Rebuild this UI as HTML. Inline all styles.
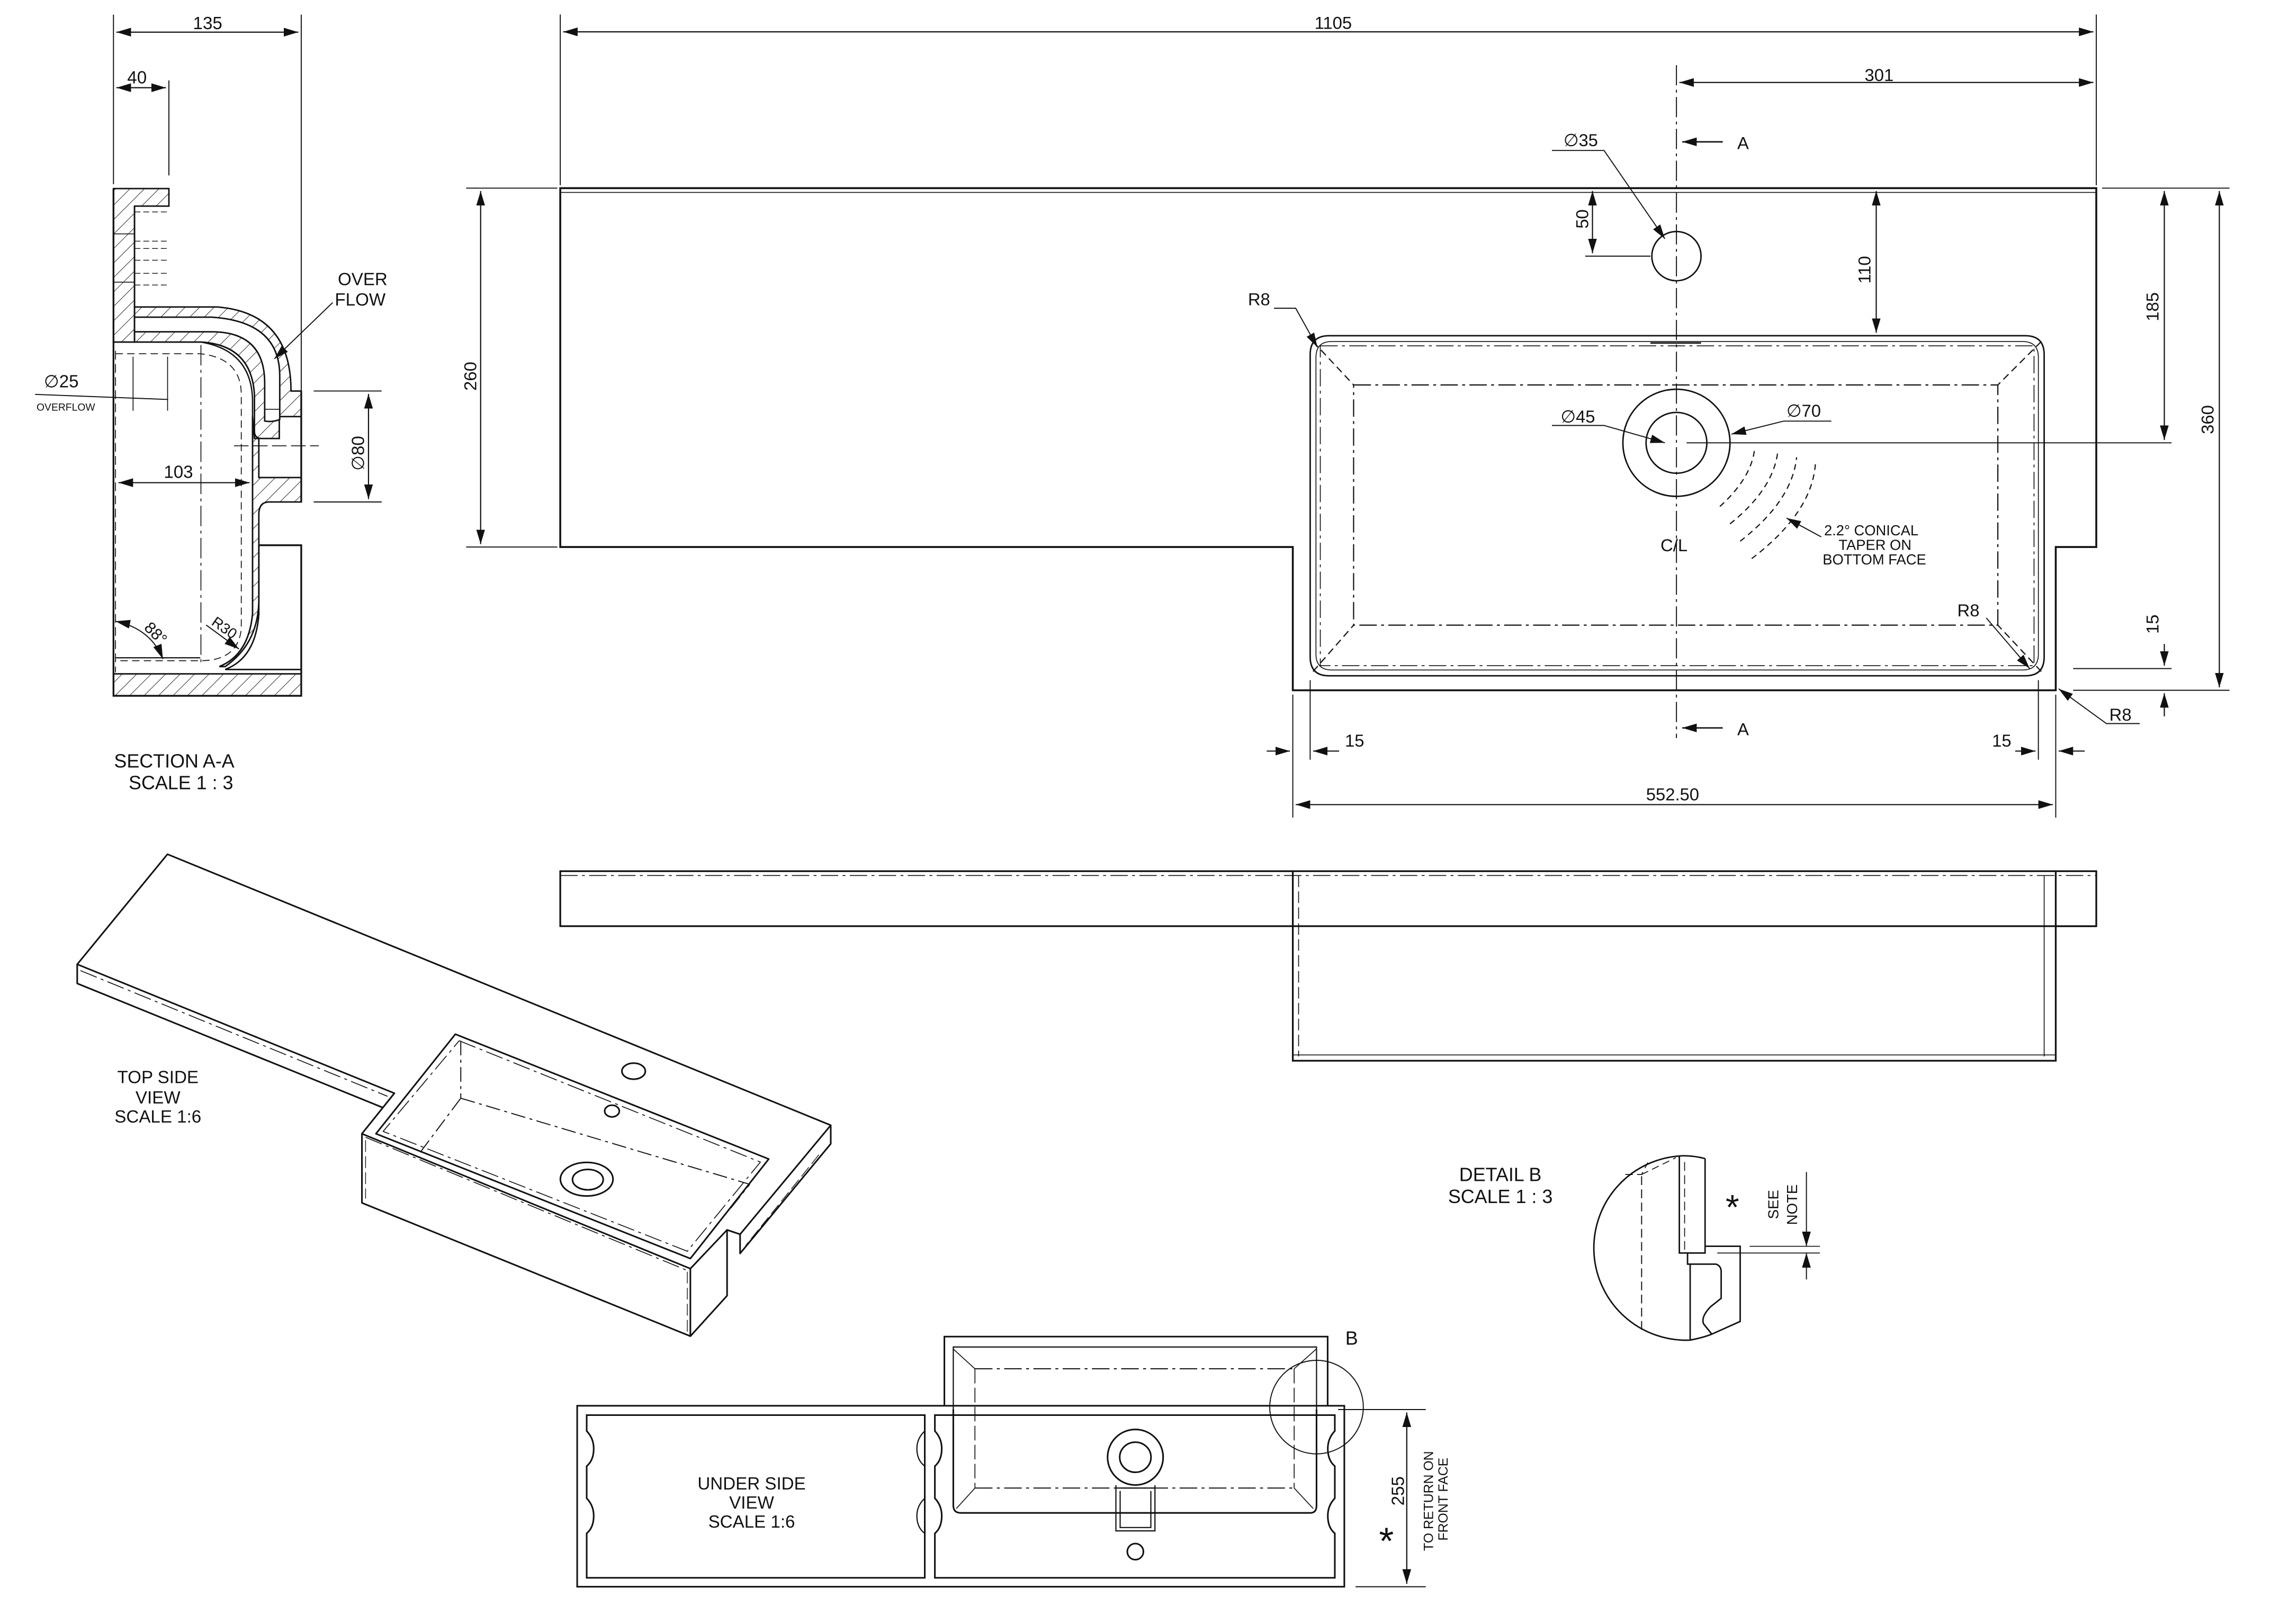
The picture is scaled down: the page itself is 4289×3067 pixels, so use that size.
<!DOCTYPE html>
<html><head><meta charset="utf-8"><style>
html,body{margin:0;padding:0;background:#fff;}
svg{display:block;}
text{font-family:"Liberation Sans",sans-serif;fill:#111;}
</style></head><body>
<svg width="4289" height="3067" viewBox="0 0 1553 1111" preserveAspectRatio="none" xmlns="http://www.w3.org/2000/svg">
<defs>
<marker id="ar" markerWidth="10" markerHeight="6" refX="10" refY="3" orient="auto-start-reverse" markerUnits="userSpaceOnUse"><path d="M0,0L10,3L0,6z" fill="#111"/></marker>
<pattern id="h" width="7" height="7" patternUnits="userSpaceOnUse" patternTransform="rotate(45)"><line x1="0" y1="0" x2="0" y2="7" stroke="#222" stroke-width="0.7"/></pattern>
</defs>

<g transform="scale(0.99)">
<g fill="none" stroke="#111" stroke-width="1">
<!-- ===== TOP PLAN VIEW ===== -->
<path d="M387,130H1448V378H1420V477H893V378H387Z" stroke-width="1.3"/>
<line x1="387" y1="133" x2="1448" y2="133" stroke-width="0.6"/>
<path d="M905,245Q905,232 918,232H1399Q1412,232 1412,245V454Q1412,467 1399,467H918Q905,467 905,454Z"/>
<path d="M909,247Q909,236 920,236H1397Q1408,236 1408,247V452Q1408,463 1397,463H920Q909,463 909,452Z" stroke-width="0.6"/>
<rect x="935" y="266" width="445" height="166" stroke-dasharray="12,3,2,3" stroke-width="0.8"/>
<rect x="912" y="239" width="493" height="221" stroke-dasharray="12,3,2,3" stroke-width="0.6"/>
<path d="M907,236L935,266M1410,236L1380,266M907,464L935,432M1410,464L1380,432" stroke-dasharray="5,3" stroke-width="0.8"/>
<circle cx="1158" cy="177" r="17"/>
<circle cx="1158" cy="306" r="37"/>
<circle cx="1158" cy="306" r="21"/>
<line x1="1158" y1="45" x2="1158" y2="510" stroke-dasharray="14,3,2,3" stroke-width="0.7"/>
<line x1="1165" y1="306" x2="1500" y2="306" stroke-width="0.7"/>
<path d="M1188,350Q1210,330 1212,310M1195,362Q1225,338 1228,312M1202,374Q1238,346 1241,316M1210,386Q1252,354 1254,320" stroke-dasharray="4,3" stroke-width="0.8"/>
<line x1="387" y1="10" x2="387" y2="128" stroke-width="0.7"/>
<line x1="1448" y1="10" x2="1448" y2="128" stroke-width="0.7"/>
<line x1="389" y1="22" x2="1446" y2="22" marker-start="url(#ar)" marker-end="url(#ar)" stroke-width="0.8"/>
<line x1="1160" y1="57" x2="1446" y2="57" marker-start="url(#ar)" marker-end="url(#ar)" stroke-width="0.8"/>
<line x1="1190" y1="98" x2="1162" y2="98" marker-end="url(#ar)" stroke-width="1"/>
<line x1="1190" y1="503" x2="1162" y2="503" marker-end="url(#ar)" stroke-width="1"/>
<line x1="322" y1="130" x2="385" y2="130" stroke-width="0.7"/>
<line x1="322" y1="378" x2="385" y2="378" stroke-width="0.7"/>
<line x1="332" y1="132" x2="332" y2="376" marker-start="url(#ar)" marker-end="url(#ar)" stroke-width="0.8"/>
<line x1="1452" y1="130" x2="1540" y2="130" stroke-width="0.7"/>
<line x1="1495" y1="132" x2="1495" y2="304" marker-start="url(#ar)" marker-end="url(#ar)" stroke-width="0.8"/>
<line x1="1533" y1="132" x2="1533" y2="475" marker-start="url(#ar)" marker-end="url(#ar)" stroke-width="0.8"/>
<line x1="1432" y1="477" x2="1540" y2="477" stroke-width="0.7"/>
<line x1="1432" y1="462" x2="1500" y2="462" stroke-width="0.7"/>
<line x1="1495" y1="445" x2="1495" y2="460" marker-end="url(#ar)" stroke-width="0.8"/>
<line x1="1495" y1="495" x2="1495" y2="479" marker-end="url(#ar)" stroke-width="0.8"/>
<line x1="1296" y1="132" x2="1296" y2="230" marker-start="url(#ar)" marker-end="url(#ar)" stroke-width="0.8"/>
<line x1="1100" y1="132" x2="1100" y2="175" marker-start="url(#ar)" marker-end="url(#ar)" stroke-width="0.8"/>
<line x1="1095" y1="177" x2="1140" y2="177" stroke-width="0.7"/>
<line x1="1140" y1="237" x2="1175" y2="237" stroke-width="1"/>
<line x1="893" y1="480" x2="893" y2="565" stroke-width="0.7"/>
<line x1="905" y1="470" x2="905" y2="525" stroke-width="0.7"/>
<line x1="1420" y1="480" x2="1420" y2="565" stroke-width="0.7"/>
<line x1="1408" y1="470" x2="1408" y2="525" stroke-width="0.7"/>
<line x1="875" y1="519" x2="891" y2="519" marker-end="url(#ar)" stroke-width="0.8"/>
<line x1="925" y1="519" x2="907" y2="519" marker-end="url(#ar)" stroke-width="0.8"/>
<line x1="1392" y1="519" x2="1406" y2="519" marker-end="url(#ar)" stroke-width="0.8"/>
<line x1="1440" y1="519" x2="1422" y2="519" marker-end="url(#ar)" stroke-width="0.8"/>
<line x1="895" y1="556" x2="1418" y2="556" marker-start="url(#ar)" marker-end="url(#ar)" stroke-width="0.8"/>
<path d="M1072,104H1108L1150,165" marker-end="url(#ar)" stroke-width="0.7"/>
<path d="M1072,294H1108L1150,306" marker-end="url(#ar)" stroke-width="0.7"/>
<path d="M1265,291H1232L1196,300" marker-end="url(#ar)" stroke-width="0.7"/>
<path d="M880,213H895L910,240" marker-end="url(#ar)" stroke-width="0.7"/>
<path d="M1372,427L1402,462" marker-end="url(#ar)" stroke-width="0.7"/>
<path d="M1478,500H1455L1422,476" marker-end="url(#ar)" stroke-width="0.7"/>
<path d="M1258,371L1234,358" marker-end="url(#ar)" stroke-width="0.7"/>
<!-- ===== FRONT VIEW ===== -->
<g stroke-width="1.2">
<rect x="387" y="602" width="1061" height="38"/>
<line x1="387" y1="605" x2="1448" y2="605" stroke-width="0.6" stroke-dasharray="12,3,2,3"/>
<path d="M893,602V733H1420V602M1420,640H1448"/>
<line x1="897" y1="605" x2="897" y2="730" stroke-width="0.6" stroke-dasharray="8,3"/>
<line x1="1412" y1="605" x2="1412" y2="730" stroke-width="0.6"/>
<line x1="893" y1="729" x2="1420" y2="729" stroke-width="0.6"/>
</g>
</g>
<g font-size="12">
<text x="908" y="20">1105</text>
<text x="1288" y="56">301</text>
<text x="1200" y="103">A</text>
<text x="1200" y="508">A</text>
<text x="1080" y="101">∅35</text>
<text x="862" y="211">R8</text>
<text x="1078" y="292">∅45</text>
<text x="1234" y="288">∅70</text>
<text x="1147" y="381">C/L</text>
<text x="1352" y="426">R8</text>
<text x="1457" y="498">R8</text>
<text x="929" y="516">15</text>
<text x="1376" y="516">15</text>
<text x="1137" y="553">552.50</text>
<text transform="translate(329,270) rotate(-90)">260</text>
<text transform="translate(1097,158) rotate(-90)">50</text>
<text transform="translate(1292,196) rotate(-90)">110</text>
<text transform="translate(1491,222) rotate(-90)">185</text>
<text transform="translate(1529,300) rotate(-90)">360</text>
<text transform="translate(1491,438) rotate(-90)">15</text>
</g>
<g font-size="10"><text x="1260" y="370">2.2° CONICAL</text><text x="1270" y="380">TAPER ON</text><text x="1259" y="390">BOTTOM FACE</text></g>
</g>

<!-- ===== SECTION A-A (true coords) ===== -->
<g fill="none" stroke="#111" stroke-width="1">
<line x1="77.6" y1="10" x2="77.6" y2="126" stroke-width="0.7"/>
<line x1="206" y1="10" x2="206" y2="267" stroke-width="0.7"/>
<line x1="115.5" y1="55" x2="115.5" y2="120" stroke-width="0.7"/>
<line x1="79.6" y1="22" x2="204" y2="22" marker-start="url(#ar)" marker-end="url(#ar)" stroke-width="0.8"/>
<line x1="79.6" y1="60" x2="113.5" y2="60" marker-start="url(#ar)" marker-end="url(#ar)" stroke-width="0.8"/>
<path d="M77.6,129H115.5V141H92V234H77.6Z" fill="url(#h)"/>
<path d="M92,210H148.6Q199,214 199,267.5H206V285H191V300H179Q174,300 174,295V270Q172,236 137.4,234H92Z" fill="url(#h)"/>
<path d="M92,217H144.8Q191.3,220 191.3,257V287Q186,289 181,288V262Q181,227 144.8,227H92Z" fill="#fff"/>
<line x1="181" y1="280" x2="191.3" y2="280" stroke-width="0.6"/>
<path d="M172.7,285V420Q170,448 150,456H154Q177,440 177,410V352Q177,343.4 184,343.4H206V326.7H177V300H174Z" fill="url(#h)"/>
<path d="M77.6,461H206V476H77.6Z" fill="url(#h)"/>
<path d="M77.6,129V476H206V373H177M206,343.4V267.5" stroke-width="1.2"/>
<path d="M177,373V420Q175,450 154,458H206" />
<path d="M92,141V210" />
<path d="M92,145H115.5M92,165H115.5M92,170H115.5M92,178H115.5M92,187H115.5M92,195H115.5" stroke-dasharray="4,2" stroke-width="0.5"/>
<path d="M77.6,160H92M77.6,193H92" stroke-width="0.6"/>
<path d="M79,242H137Q165,245 165,270V430Q163,452 137,452H79" stroke-dasharray="5,3" stroke-width="0.6"/>
<line x1="79" y1="240" x2="79" y2="460" stroke-dasharray="6,3" stroke-width="0.6"/>
<line x1="137.4" y1="236" x2="137.4" y2="455" stroke-dasharray="14,3,2,3" stroke-width="0.6"/>
<path d="M77.6,234H137.4Q172.7,240 172.7,275V420" stroke-width="0.9"/>
<path d="M79,450H137" stroke-width="0.8"/>
<line x1="81" y1="330.2" x2="170.7" y2="330.2" marker-start="url(#ar)" marker-end="url(#ar)" stroke-width="0.8"/>
<line x1="252" y1="269.5" x2="252" y2="341.4" marker-start="url(#ar)" marker-end="url(#ar)" stroke-width="0.8"/>
<line x1="214.5" y1="267.5" x2="261" y2="267.5" stroke-width="0.7"/>
<line x1="214.5" y1="343.4" x2="261" y2="343.4" stroke-width="0.7"/>
<line x1="160" y1="305" x2="218" y2="305" stroke-dasharray="10,3" stroke-width="0.6"/>
<line x1="24" y1="269.8" x2="115" y2="273.3" stroke-width="0.7"/>
<line x1="91" y1="244" x2="91" y2="281" stroke-width="0.6"/>
<line x1="114.6" y1="244" x2="114.6" y2="281" stroke-width="0.6"/>
<path d="M79,425Q103,430 111.4,450.8" marker-start="url(#ar)" marker-end="url(#ar)" stroke-width="0.7"/>
<line x1="141" y1="427.6" x2="163.4" y2="444" marker-end="url(#ar)" stroke-width="0.7"/>
<line x1="227.5" y1="207" x2="187.6" y2="245.5" marker-end="url(#ar)" stroke-width="0.7"/>
</g>
<g font-size="12">
<text x="132" y="20">135</text>
<text x="87" y="57">40</text>
<text x="231" y="195">OVER</text><text x="229" y="209">FLOW</text>
<text x="30" y="265">∅25</text>
<text x="112" y="327">103</text>
<text transform="translate(249,322) rotate(-90)">∅80</text>
<text transform="translate(98,430) rotate(45)" font-size="11">88°</text>
<text transform="translate(144,427) rotate(35)" font-size="10">R30</text>
<text x="78" y="525" font-size="13">SECTION A-A</text>
<text x="88" y="540" font-size="13">SCALE 1 : 3</text>
</g>
<text x="25" y="281" font-size="7">OVERFLOW</text>

<!-- ===== ISOMETRIC (true coords) ===== -->
<g fill="none" stroke="#111" stroke-width="1.1" stroke-linejoin="round">
<path d="M114.5,584.4L568.1,769.8V782.5L506.1,857.5V844.4L497.2,841.4V886.4L472.1,914.1L247.5,822.9V775.6L269.7,747.9L52.8,659.7Z"/>
<path d="M52.8,659.7V672.8L261.5,757.6"/>
<path d="M568.1,769.8L506.1,844.4"/>
<path d="M247.5,775.6L472.1,867.9V914.1M472.1,867.9L497.2,841.4"/>
<path d="M55,664L265,750" stroke-dasharray="12,3,2,3" stroke-width="0.6"/>
<path d="M250,778L472,870" stroke-dasharray="12,3,2,3" stroke-width="0.6"/>
<path d="M311.4,707.5L525.7,792.9L472.1,861L257.1,775.6Z"/>
<path d="M314,712L520,795L470,856L262,774Z" stroke-dasharray="12,3,2,3" stroke-width="0.6"/>
<path d="M315.1,751.3L512.7,810.2M499.8,826.4L512.7,810.2M287.4,788.3L315.1,751.3M315.1,712V751.3" stroke-dasharray="10,3,2,3" stroke-width="0.7"/>
<path d="M250,780V820M470,870V912M560,790L510,852" stroke-dasharray="8,3" stroke-width="0.5"/>
<ellipse cx="433.3" cy="732.8" rx="8" ry="5.5"/>
<ellipse cx="418.5" cy="760.1" rx="5" ry="4"/>
<ellipse cx="401.2" cy="806.7" rx="18" ry="11.5"/>
<ellipse cx="402" cy="807" rx="10.5" ry="7"/>
</g>
<g font-size="12" text-anchor="middle"><text x="108" y="741">TOP SIDE</text><text x="108" y="755">VIEW</text><text x="108" y="768">SCALE 1:6</text></g>

<!-- ===== DETAIL B (true coords) ===== -->
<g fill="none" stroke="#111" stroke-width="1">
<path d="M1166,792.6Q1158,790.5 1150.3,790.7A63,63 0 0,0 1155.8,916.8Q1165,915 1170.6,912.7L1190,904V852.6H1166"/>
<path d="M1148.4,790.7V857.2H1166V792.6"/>
<line x1="1152" y1="795" x2="1152" y2="855" stroke-dasharray="6,3" stroke-width="0.6"/>
<path d="M1154,857.2V864.8H1173.4Q1177,866 1177,870V888.2L1169.7,894Q1163,901 1165,905.7L1170.6,912.7"/>
<line x1="1155.8" y1="864.8" x2="1155.8" y2="916.8"/>
<line x1="1122.6" y1="804.7" x2="1122.6" y2="911.6" stroke-dasharray="6,3" stroke-width="0.7"/>
<path d="M1111.5,803.5H1122.6L1126.8,795.3M1122.6,803.5L1146,792" stroke-dasharray="5,3" stroke-width="0.6"/>
<line x1="1196.5" y1="852.6" x2="1244.5" y2="852.6" stroke-width="0.6"/>
<line x1="1174.3" y1="857.2" x2="1244.5" y2="857.2" stroke-width="0.6"/>
<line x1="1235.3" y1="801.8" x2="1235.3" y2="852.6" marker-end="url(#ar)" stroke-width="0.7"/>
<line x1="1235.3" y1="875.3" x2="1235.3" y2="857.2" marker-end="url(#ar)" stroke-width="0.7"/>
</g>
<g font-size="13" text-anchor="middle"><text x="1026" y="808">DETAIL B</text><text x="1026" y="823">SCALE 1 : 3</text></g>
<text x="1180" y="834" font-size="24">*</text>
<text transform="translate(1216,834) rotate(-90)" font-size="10">SEE</text>
<text transform="translate(1229,838) rotate(-90)" font-size="10">NOTE</text>

<!-- ===== UNDERSIDE (true coords) ===== -->
<g fill="none" stroke="#111" stroke-width="1.1">
<path d="M645.8,962V914.4H907.9V962"/>
<path d="M651.9,964V921.5H900.3V964" stroke-width="0.8"/>
<rect x="394.7" y="961.7" width="524.6" height="123.8"/>
<path d="M401.2,968.1H632.4V1079.4H401.2V1049Q406,1045 406,1037Q406,1030 401.2,1025V1003Q406,999 406,991Q406,984 401.2,979Z"/>
<path d="M632.4,979Q627,984 627,991Q627,999 632.4,1003M632.4,1025Q627,1030 627,1037Q627,1045 632.4,1049" stroke-width="0.8"/>
<path d="M639.3,968.1H912.8V979Q908,984 908,991Q908,999 912.8,1003V1025Q908,1030 908,1037Q908,1045 912.8,1049V1079.4H639.3V1049Q644,1045 644,1037Q644,1030 639.3,1025V1003Q644,999 644,991Q644,984 639.3,979Z"/>
<path d="M651.9,964V1030Q652,1035 657,1035H896Q900.3,1035 900.3,1030V964"/>
<path d="M666.7,936.4H885M666.7,1018H885" stroke-dasharray="12,3,2,3" stroke-width="0.7"/>
<path d="M666.7,936.4V1018M885,936.4V1018" stroke-dasharray="10,3" stroke-width="0.6"/>
<path d="M652,923L666.7,936.4M900,923L885,936.4M654,1032L666.7,1018M898,1032L885,1018" stroke-width="0.6"/>
<ellipse cx="776.4" cy="996.9" rx="19" ry="19"/>
<ellipse cx="776.4" cy="996.9" rx="10.7" ry="10.3"/>
<path d="M763.1,1016V1047.3H789.8V1016M766,1020V1045H787V1020M763.1,1018H789.8" stroke-width="0.8"/>
<circle cx="776.4" cy="1061.5" r="5.5"/>
<circle cx="900.3" cy="962.6" r="32" stroke-width="0.7"/>
<line x1="915" y1="964.3" x2="975" y2="964.3" stroke-width="0.7"/>
<line x1="927" y1="1085.5" x2="975" y2="1085.5" stroke-width="0.7"/>
<line x1="962" y1="966.3" x2="962" y2="1083.5" marker-start="url(#ar)" marker-end="url(#ar)" stroke-width="0.8"/>
</g>
<g font-size="12" text-anchor="middle"><text x="514" y="1019">UNDER SIDE</text><text x="514" y="1032">VIEW</text><text x="514" y="1045">SCALE 1:6</text></g>
<text x="920" y="920" font-size="13">B</text>
<text x="943" y="1063" font-size="26">*</text>
<text transform="translate(960,1030) rotate(-90)" font-size="12">255</text>
<text transform="translate(980,1061) rotate(-90)" font-size="9">TO RETURN ON</text>
<text transform="translate(990,1054) rotate(-90)" font-size="9">FRONT FACE</text>
</svg>
</body></html>
